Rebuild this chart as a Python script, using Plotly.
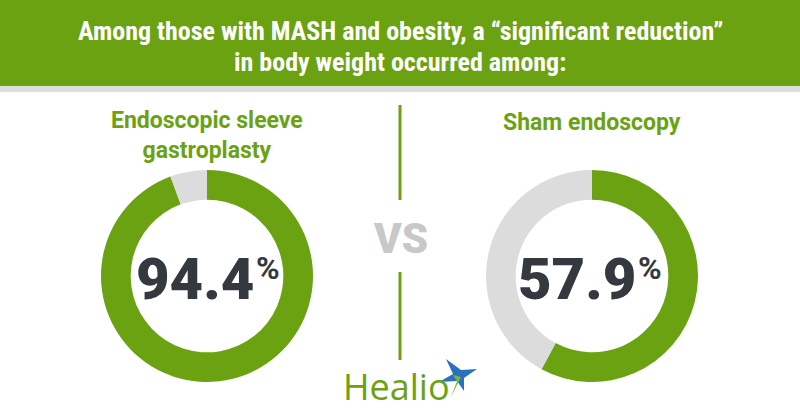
import plotly.graph_objects as go

W, H = 800, 420

# ---- data ----
groups = ["Endoscopic sleeve<br>gastroplasty", "Sham endoscopy"]
values = [94.4, 57.9]
value_labels = ["94.4", "57.9"]
header_lines = ["Among those with MASH and obesity, a \u201csignificant reduction\u201d",
                "in body weight occurred among:"]

GREEN = "#6aa211"
GRAY = "#dcdcdc"
DARK = "#33393e"
TITLE_FONT = "Roboto Condensed, Liberation Sans Narrow, Roboto, Arial Narrow, sans-serif"
HEAVY_FONT = "Roboto Black, Inter Black, Inter, Roboto, sans-serif"


def px(x):
    return x / W


def py(y):
    return 1 - y / H


fig = go.Figure()

centers = [207, 592]
R = 106
cy = 276
for i, (cx, v) in enumerate(zip(centers, values)):
    fig.add_trace(go.Pie(
        values=[v, 100 - v],
        marker=dict(colors=[GREEN, GRAY], line=dict(width=0)),
        hole=0.72,
        sort=False,
        direction="clockwise",
        rotation=0,
        textinfo="none",
        hoverinfo="skip",
        showlegend=False,
        domain=dict(x=[px(cx - R), px(cx + R)], y=[py(cy + R), py(cy - R)]),
    ))

shapes = [
    # header band
    dict(type="rect", xref="paper", yref="paper", x0=0, x1=1, y0=py(86), y1=1,
         fillcolor=GREEN, line=dict(width=0), layer="below"),
    dict(type="rect", xref="paper", yref="paper", x0=0, x1=1, y0=py(92), y1=py(86),
         fillcolor="#dedede", line=dict(width=0), layer="below"),
    # divider lines
    dict(type="line", xref="paper", yref="paper", x0=px(400), x1=px(400), y0=py(105), y1=py(200),
         line=dict(color=GREEN, width=3)),
    dict(type="line", xref="paper", yref="paper", x0=px(400), x1=px(400), y0=py(272), y1=py(360),
         line=dict(color=GREEN, width=3)),
]


# Healio star logo (decoration)
def poly(pts):
    return "M " + " L ".join(f"{px(x)},{py(y)}" for x, y in pts) + " Z"


blue_pts = [(446, 359), (461, 370), (477, 369), (464, 378), (464, 391),
            (457, 381), (439, 382), (453, 374)]
shapes.append(dict(type="path", xref="paper", yref="paper", path=poly(blue_pts),
                   fillcolor="#2b72bd", line=dict(width=0)))
green_pts = [(457, 381), (453, 375), (461, 377), (451, 397)]
shapes.append(dict(type="path", xref="paper", yref="paper", path=poly(green_pts),
                   fillcolor="#7fb838", line=dict(width=0)))

annotations = []
# header
for line, yy in zip(header_lines, [31, 62]):
    annotations.append(dict(text=f"<b>{line}</b>", x=0.5, y=py(yy), xref="paper", yref="paper",
                            showarrow=False, xanchor="center", yanchor="middle",
                            font=dict(family=TITLE_FONT, size=26, color="white")))

# group titles
title_y = [135, 122]
for cx, g, ty in zip(centers, groups, title_y):
    annotations.append(dict(text=f"<b>{g}</b>", x=px(cx), y=py(ty), xref="paper", yref="paper",
                            showarrow=False, xanchor="center", yanchor="middle",
                            font=dict(family="Roboto, sans-serif", size=23, color=GREEN)))

# center values
num_right = [256, 638]
for nr, lab in zip(num_right, value_labels):
    annotations.append(dict(text=lab, x=px(nr), y=py(279), xref="paper", yref="paper",
                            showarrow=False, xanchor="right", yanchor="middle",
                            font=dict(family=HEAVY_FONT, size=58, color=DARK, weight=900)))
    annotations.append(dict(text="%", x=px(nr - 2), y=py(268), xref="paper", yref="paper",
                            showarrow=False, xanchor="left", yanchor="middle",
                            font=dict(family="Roboto, sans-serif", size=32, color=DARK, weight=700)))

# VS
annotations.append(dict(text="VS", x=px(400), y=py(238), xref="paper", yref="paper",
                        showarrow=False, xanchor="center", yanchor="middle",
                        font=dict(family=HEAVY_FONT, size=42, color="#c8c8c8", weight=900)))

# Healio wordmark
annotations.append(dict(text="Healio", x=px(396), y=py(386), xref="paper", yref="paper",
                        showarrow=False, xanchor="center", yanchor="middle",
                        font=dict(family="Open Sans, sans-serif", size=36, color=GREEN)))

fig.update_layout(
    width=W, height=H,
    margin=dict(l=0, r=0, t=0, b=0),
    paper_bgcolor="white", plot_bgcolor="white",
    shapes=shapes, annotations=annotations,
)

fig.write_html("out.html")
